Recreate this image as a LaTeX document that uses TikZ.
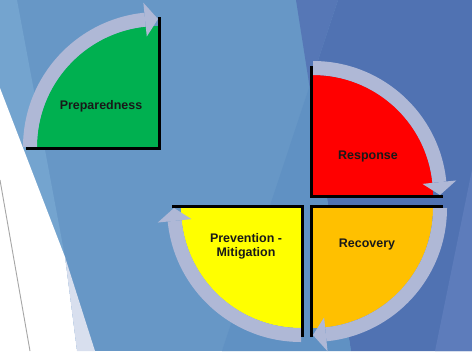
\documentclass[tikz,border=0pt]{standalone}
\usepackage{fontspec}
\setmainfont{Liberation Sans}
\definecolor{bgmain}{HTML}{6797C6}
\definecolor{bgdark}{HTML}{5072B2}
\definecolor{bgmidtop}{HTML}{5677B6}
\definecolor{bgmidlow}{HTML}{6091C3}
\definecolor{bgright}{HTML}{5D7CBB}
\definecolor{bglight}{HTML}{74A4CF}
\definecolor{lav}{HTML}{D8DFEE}
\definecolor{bandc}{HTML}{AFB8D6}
\definecolor{qgreen}{HTML}{00B050}
\definecolor{qred}{HTML}{FF0000}
\definecolor{qorange}{HTML}{FFC000}
\definecolor{qyellow}{HTML}{FFFF00}
\tikzset{
  band/.style={fill=bandc},
  edgeline/.style={line width=3.2bp, black},
  lbl/.style={font=\fontsize{12.5}{14}\selectfont\bfseries, text=black!90, align=center, inner sep=0pt}
}
\begin{document}
\begin{tikzpicture}[x=1bp,y=1bp]
\useasboundingbox (0,0) rectangle (472,351);
\begin{scope}
\clip (0,0) rectangle (472,351);
% background
\fill[bgmain] (0,0) rectangle (472,351);
\fill[bglight] (0,351) -- (17,351) -- (65,94) -- (0,94) -- cycle;
\fill[bgdark] (338,351) -- (472,351) -- (472,0) -- (351,0) -- (309.5,264.8) -- cycle;
\fill[bgmidtop] (296,351) -- (338,351) -- (309.5,264.8) -- cycle;
\fill[bgmidlow] (309.5,264.8) -- (351,0) -- (222,0) -- cycle;
\fill[bgright] (476,201) -- (435,0) -- (480,0) -- cycle;
\fill[white] (0,263) -- (65,94) -- (77,0) -- (0,0) -- cycle;
\fill[lav] (65,94) -- (95,0) -- (77,0) -- cycle;
\draw[gray!70, line width=0.9bp] (0,171) -- (30,0);
\end{scope}
% centres
\coordinate (G) at (158,204);
\coordinate (R) at (313,156);
\coordinate (O) at (313,143);
\coordinate (Y) at (301,143);
% quadrants
\fill[qgreen, shift={(G)}] (0,0) -- (90:121bp) arc[start angle=90, end angle=180, radius=121bp] -- cycle;
\fill[qred, shift={(R)}] (0,0) -- (0:120bp) arc[start angle=0, end angle=90, radius=120bp] -- cycle;
\fill[qorange, shift={(O)}] (0,0) -- (-90:120bp) arc[start angle=-90, end angle=0, radius=120bp] -- cycle;
\fill[qyellow, shift={(Y)}] (0,0) -- (180:120bp) arc[start angle=180, end angle=270, radius=120bp] -- cycle;
% bands with arrowheads
\fill[band, shift={(G)}] (180:135bp) arc[start angle=180, end angle=95.8, radius=135bp] -- (95.8:121bp) arc[start angle=95.8, end angle=180, radius=121bp] -- cycle;
\fill[band, shift={(G)}] (95.8:111bp) -- (95.8:145bp) -- (90:128bp) -- cycle;
\fill[band, shift={(R)}] (90:134bp) arc[start angle=90, end angle=5.8, radius=134bp] -- (5.8:120bp) arc[start angle=5.8, end angle=90, radius=120bp] -- cycle;
\fill[band, shift={(R)}] (5.8:110bp) -- (5.8:144bp) -- (0:127bp) -- cycle;
\fill[band, shift={(O)}] (0:134bp) arc[start angle=0, end angle=-84.2, radius=134bp] -- (-84.2:120bp) arc[start angle=-84.2, end angle=0, radius=120bp] -- cycle;
\fill[band, shift={(O)}] (-84.2:110bp) -- (-84.2:144bp) -- (-90:127bp) -- cycle;
\fill[band, shift={(Y)}] (-90:134bp) arc[start angle=-90, end angle=-174.2, radius=134bp] -- (-174.2:120bp) arc[start angle=-174.2, end angle=-90, radius=120bp] -- cycle;
\fill[band, shift={(Y)}] (-174.2:110bp) -- (-174.2:144bp) -- (-180:127bp) -- cycle;
% black edges
\draw[edgeline, shift={(G)}] (-132,-1.6) -- (1.6,-1.6) -- (1.6,130);
\draw[edgeline, shift={(R)}] (-1.6,129) -- (-1.6,-1.6) -- (130,-1.6);
\draw[edgeline, shift={(O)}] (130,1.6) -- (-1.6,1.6) -- (-1.6,-129);
\draw[edgeline, shift={(Y)}] (-129,1.6) -- (1.6,1.6) -- (1.6,-129);
% labels
\node[lbl] (prep) at (101,245) {Preparedness};
\node[lbl] (resp) at (368,194) {Response};
\node[lbl] (reco) at (367,106) {Recovery};
\node[lbl] (prev) at (246,105) {Prevention -\\Mitigation};
\end{tikzpicture}
\end{document}
